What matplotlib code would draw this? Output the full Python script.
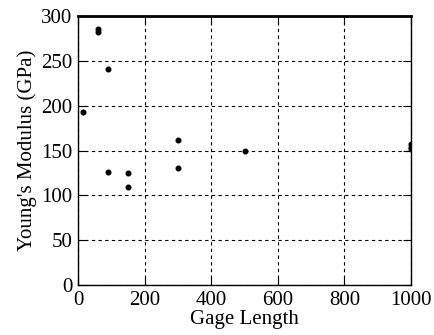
import matplotlib
matplotlib.use("Agg")
import matplotlib.pyplot as plt

# gage length vs modulus
gage_length = [14, 60, 60, 90, 90, 150, 150, 300, 300, 500, 1000, 1000, 1000]
modulus = [193, 286, 282, 241, 126, 125, 109, 162, 131, 149, 157, 154, 152]

x_ticks = [0, 200, 400, 600, 800, 1000]
y_ticks = [0, 50, 100, 150, 200, 250, 300]


def main():
    plt.rcParams["font.family"] = ["Liberation Serif", "DejaVu Serif"]
    fig = plt.figure(figsize=(4.34, 3.35), dpi=100)
    ax = fig.add_axes([0.18, 0.149, 0.767, 0.803])

    ax.scatter(gage_length, modulus, s=11, color="black", zorder=3)

    ax.set_xlim(0, 1000)
    ax.set_ylim(0, 300)
    ax.set_xticks(x_ticks)
    ax.set_yticks(y_ticks)
    ax.grid(True, color="black", linestyle=(0, (3, 3)), linewidth=0.8)
    ax.tick_params(direction="in", length=6, top=True, right=True,
                   labelsize=15, pad=4)
    for side in ax.spines.values():
        side.set_linewidth(1.0)
    ax.spines["top"].set_linewidth(2.0)

    ax.set_xlabel("Gage Length", fontsize=15, labelpad=0)
    ax.set_ylabel("Young's Modulus (GPa)", fontsize=15, labelpad=3)

    fig.savefig("out.png", dpi=100)


if __name__ == '__main__':
    main()
